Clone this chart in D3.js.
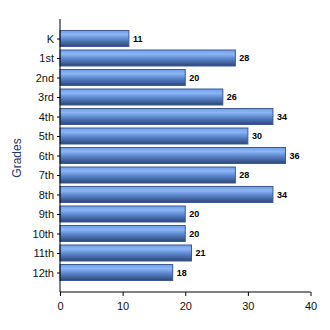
<!DOCTYPE html>
<html>
<head>
<meta charset="utf-8">
<script src="https://cdn.jsdelivr.net/npm/d3@7"></script>
<style>
body { margin: 0; background: #fff; }
text { font-family: Arial, "Liberation Sans", sans-serif; }
</style>
</head>
<body>
<svg id="figure"></svg>
<script>
var grades = ["K", "1st", "2nd", "3rd", "4th", "5th", "6th", "7th", "8th", "9th", "10th", "11th", "12th"];
var students = [11, 28, 20, 26, 34, 30, 36, 28, 34, 20, 20, 21, 18];
var xTicks = [0, 10, 20, 30, 40];

var margin = {top: 19, bottom: 38, left: 60, right: 19};
var fullWidth = 330, fullHeight = 330;
var width = fullWidth - margin.left - margin.right;
var height = fullHeight - margin.top - margin.bottom;

var svg = d3.select('#figure')
    .attr("width", fullWidth)
    .attr("height", fullHeight);

var defs = svg.append("defs");
var grad = defs.append("linearGradient").attr("id", "barGrad")
    .attr("x1", 0).attr("y1", 0).attr("x2", 0).attr("y2", 1);
grad.append("stop").attr("offset", "0%").attr("stop-color", "#6f9de6");
grad.append("stop").attr("offset", "25%").attr("stop-color", "#8bb6f6");
grad.append("stop").attr("offset", "55%").attr("stop-color", "#5b86cc");
grad.append("stop").attr("offset", "100%").attr("stop-color", "#2c4677");

var g = svg.append("g")
    .attr("transform", "translate(" + margin.left + "," + margin.top + ")");

var xRange = d3.scaleLinear().domain([0, 40]).range([0, 250.5]);
var yRange = d3.scalePoint().domain(grades).range([0, height]).padding(1);

var barH = 16;

g.selectAll("rect.bar").data(grades).enter().append("rect")
    .attr("class", "bar")
    .attr("x", xRange(0))
    .attr("y", function (d) { return yRange(d) - barH / 2; })
    .attr("width", function (d, i) { return xRange(students[i]); })
    .attr("height", barH)
    .attr("fill", "url(#barGrad)")
    .attr("stroke", "#3b5b92")
    .attr("stroke-width", 1);

g.selectAll("text.val").data(grades).enter().append("text")
    .attr("class", "val")
    .attr("x", function (d, i) { return xRange(students[i]) + 4; })
    .attr("y", function (d) { return yRange(d); })
    .attr("dy", "0.35em")
    .attr("font-size", "9px")
    .attr("font-weight", "bold")
    .attr("fill", "#000")
    .text(function (d, i) { return students[i]; });

var yAxis = d3.axisLeft(yRange).tickSize(3).tickPadding(3);
var xAxis = d3.axisBottom(xRange).tickValues(xTicks).tickSize(4).tickPadding(6);

var ya = g.append("g").call(yAxis);
ya.select(".domain").attr("d", "M0,0V" + height).attr("stroke", "#000");
ya.selectAll("text").attr("font-size", "11px").attr("fill", "#111");
ya.selectAll("line").attr("stroke", "#000");

var xa = g.append("g").attr("transform", "translate(0," + height + ")").call(xAxis);
xa.select(".domain").attr("d", "M0,0H" + xRange(40)).attr("stroke", "#000");
xa.selectAll("text").attr("font-size", "11px").attr("fill", "#111");
xa.selectAll("line").attr("stroke", "#000");

svg.append("text").text("Grades")
    .attr("transform", "translate(21,158) rotate(-90)")
    .attr("text-anchor", "middle")
    .attr("font-size", "12px")
    .attr("fill", "#1f3a66");
</script>
</body>
</html>
